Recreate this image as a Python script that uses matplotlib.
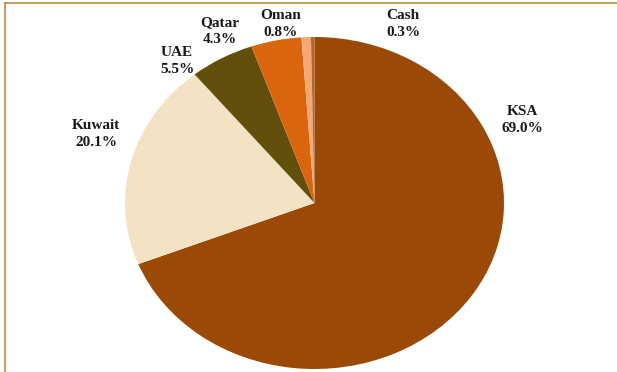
import matplotlib
matplotlib.use("Agg")
import matplotlib.pyplot as plt
from matplotlib.lines import Line2D

# Portfolio split by country
countries = ['KSA', 'Kuwait', 'UAE', 'Qatar', 'Oman', 'Cash']
shares = [69.0, 20.1, 5.5, 4.3, 0.8, 0.3]
colors = ['#9A4A06', '#F3E3C4', '#624F0B', '#DA650F', '#F4A872', '#B4662A']

# label anchors in pixels (x, y from top-left)
label_pos = [(522, 120), (96, 134), (177, 61), (220, 31), (281, 24), (403, 24)]

W, H = 617, 372
fig = plt.figure(figsize=(W / 100, H / 100), dpi=100)
fig.patch.set_facecolor('white')

# pie box: x 125..503, y 37..369 (slightly wider than tall)
left, right, top, bottom = 125, 504, 37, 369
ax = fig.add_axes([left / W, 1 - bottom / H, (right - left) / W, (bottom - top) / H])
ax.pie(shares, colors=colors, startangle=90, counterclock=False,
       wedgeprops=dict(linewidth=0))
ax.set_aspect('auto')
ax.set_xlim(-1, 1)
ax.set_ylim(-1, 1)
ax.axis('off')

for name, val, (px, py) in zip(countries, shares, label_pos):
    fig.text(px / W, 1 - py / H, f"{name}\n{val:.1f}%", ha='center', va='center',
             fontsize=11, fontweight='bold', family='Liberation Serif',
             color='#1a1a1a', linespacing=1.35)

# thin frame along the left and top edges
frame_c = '#C08A3E'
fig.add_artist(Line2D([4.5 / W, 4.5 / W], [0, 1 - 2.5 / H], color=frame_c, lw=1.2,
                      transform=fig.transFigure))
fig.add_artist(Line2D([4.5 / W, 1], [1 - 2.5 / H, 1 - 2.5 / H], color=frame_c, lw=1.2,
                      transform=fig.transFigure))

fig.savefig('out.png', dpi=100)
